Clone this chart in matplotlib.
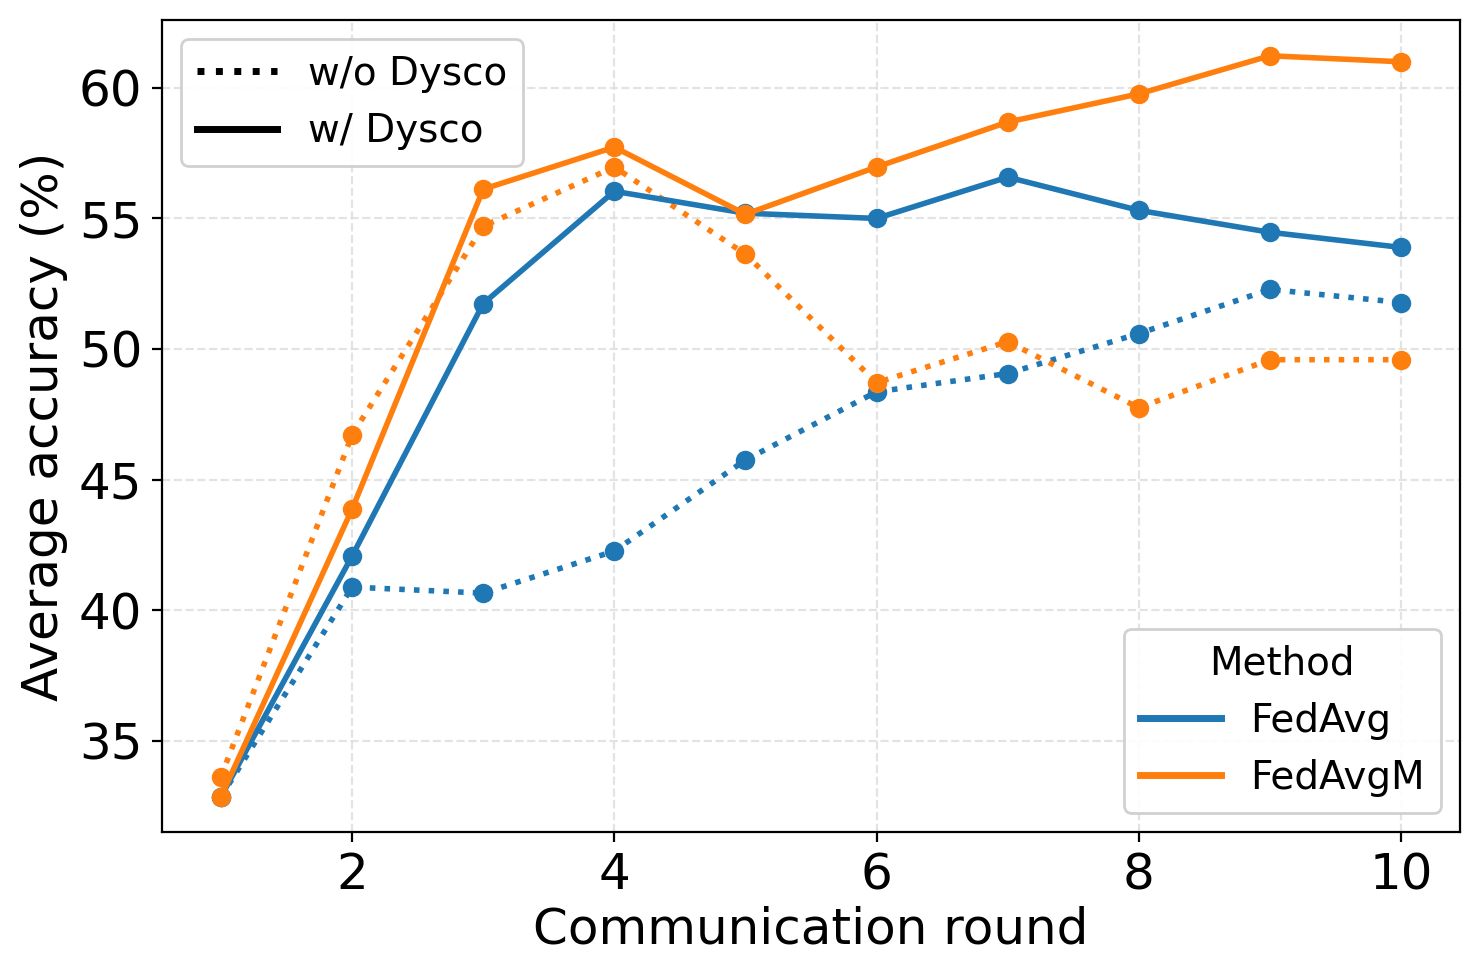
import matplotlib
matplotlib.use("Agg")
import matplotlib.pyplot as plt
from matplotlib.lines import Line2D

rounds = [1, 2, 3, 4, 5, 6, 7, 8, 9, 10]
fedavg_w = [32.85, 42.07, 51.74, 56.04, 55.20, 55.00, 56.58, 55.31, 54.47, 53.89]
fedavg_wo = [32.85, 40.88, 40.65, 42.26, 45.75, 48.36, 49.06, 50.59, 52.28, 51.78]
fedavgm_w = [32.85, 43.87, 56.12, 57.73, 55.16, 56.97, 58.69, 59.77, 61.23, 61.00]
fedavgm_wo = [33.62, 46.71, 54.70, 56.97, 53.63, 48.71, 50.28, 47.75, 49.59, 49.59]

blue = "#1f77b4"
orange = "#ff7f0e"

fig = plt.figure(figsize=(1479 / 200, 980 / 200), dpi=200)
ax = fig.add_axes([162 / 1479, 1 - 832 / 980, (1460 - 162) / 1479, (832 - 20) / 980])

lw = 2.0
ms = 6
ax.plot(rounds, fedavg_wo, color=blue, linestyle=":", lw=lw, marker="o", ms=ms)
ax.plot(rounds, fedavgm_wo, color=orange, linestyle=":", lw=lw, marker="o", ms=ms)
ax.plot(rounds, fedavg_w, color=blue, linestyle="-", lw=lw, marker="o", ms=ms)
ax.plot(rounds, fedavgm_w, color=orange, linestyle="-", lw=lw, marker="o", ms=ms)

ax.set_xticks([2, 4, 6, 8, 10])
ax.set_yticks([35, 40, 45, 50, 55, 60])
ax.set_ylim(31.5, 62.6)
ax.set_xlim(0.55, 10.45)
ax.tick_params(labelsize=18)
ax.set_xlabel("Communication round", fontsize=18, labelpad=2)
ax.set_ylabel("Average accuracy (%)", fontsize=18)
ax.grid(True, linestyle="--", color="#dddddd", lw=0.8, alpha=0.8)
ax.set_axisbelow(True)

style_handles = [Line2D([], [], color="black", linestyle=":", lw=2.5),
                 Line2D([], [], color="black", linestyle="-", lw=2.5)]
leg1 = ax.legend(style_handles, ["w/o Dysco", "w/ Dysco"], loc="upper left",
                 fontsize=14, framealpha=0.9, handlelength=2.05)
ax.add_artist(leg1)

method_handles = [Line2D([], [], color=blue, lw=2.5),
                  Line2D([], [], color=orange, lw=2.5)]
ax.legend(method_handles, ["FedAvg", "FedAvgM"], title="Method", loc="lower right",
          fontsize=14, title_fontsize=14, handletextpad=0.75, handlelength=2.1,
          framealpha=0.9)

fig.savefig("out.png", dpi=200)
